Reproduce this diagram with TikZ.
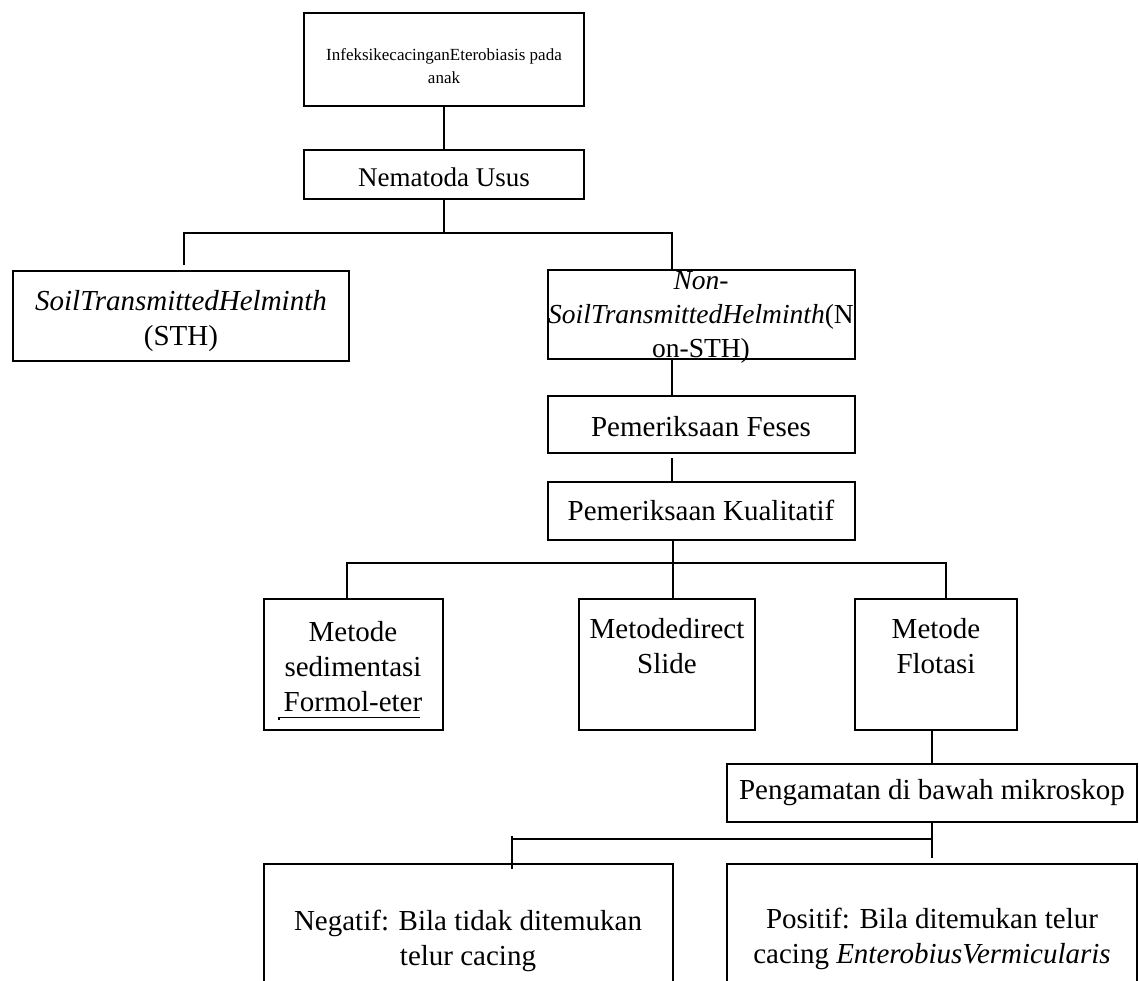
\documentclass[tikz,border=0pt]{standalone}
\usepackage{fontspec}
\setmainfont{Liberation Serif}
\begin{document}
\begin{tikzpicture}[x=1pt,y=-1pt,
  box/.style={draw,line width=1.3pt,inner sep=0pt,outer sep=0pt},
  conn/.style={line width=1.3pt},
  txt/.style={inner sep=0pt,align=center},
  big/.style={font=\fontsize{29}{35}\selectfont},
  mid/.style={font=\fontsize{27}{33}\selectfont},
  nonf/.style={font=\fontsize{27.5}{34}\selectfont},
  small/.style={font=\fontsize{17}{23}\selectfont}]
\clip (0,0) rectangle (1139,980);
\fill[white] (0,0) rectangle (1139,980);
% boxes
\node[box,minimum width=280pt,minimum height=93pt] (top) at (444,59.5) {};
\node[box,minimum width=280pt,minimum height=49pt] (nem) at (444,174.5) {};
\node[box,minimum width=336pt,minimum height=90pt] (sth) at (181,316) {};
\node[box,minimum width=307pt,minimum height=89pt] (non) at (701.5,314.5) {};
\node[box,minimum width=307pt,minimum height=57pt] (feses) at (701.5,424.5) {};
\node[box,minimum width=307pt,minimum height=58pt] (kual) at (701.5,511) {};
\node[box,minimum width=179pt,minimum height=131pt] (sed) at (353.5,664.5) {};
\node[box,minimum width=176pt,minimum height=131pt] (dir) at (667,664.5) {};
\node[box,minimum width=162pt,minimum height=131pt] (flo) at (936,664.5) {};
\node[box,minimum width=410pt,minimum height=58pt] (peng) at (932,793) {};
\node[box,minimum width=409pt,minimum height=160pt] (neg) at (468.5,944) {};
\node[box,minimum width=410pt,minimum height=160pt] (pos) at (932,944) {};
% texts
\node[txt,small] (topt) at (444,66) {InfeksikecacinganEterobiasis pada\\anak};
\node[txt,mid] (nemt) at (444,177) {Nematoda Usus};
\node[txt,big] (stht) at (181,321) {\textit{SoilTransmittedHelminth}\\(STH)};
\node[txt,nonf] (nont) at (701,317) {\textit{Non-}\\\textit{SoilTransmittedHelminth}(N\\on-STH)};
\node[txt,big] (fesest) at (701,427) {Pemeriksaan Feses};
\node[txt,big] (kualt) at (701,510) {Pemeriksaan Kualitatif};
\node[txt,big] (sedt) at (353,667) {Metode\\sedimentasi\\Formol-eter};
\node[txt,big] (dirt) at (667,646) {Metodedirect\\Slide};
\node[txt,big] (flot) at (936,646) {Metode\\Flotasi};
\node[txt,big] (pengt) at (932,793) {Pengamatan di bawah mikroskop};
\node[txt,big] (negt) at (468,941) {Negatif: Bila tidak ditemukan\\telur cacing};
\node[txt,big] (post) at (932,939) {Positif: Bila ditemukan telur\\cacing \textit{EnterobiusVermicularis}};
% underline under Formol-eter
\draw[line width=1.1pt] (279,720) -- (279,717.5) -- (420,717.5);
% junction coordinates
\coordinate (j1) at (444,233);
\coordinate (j2) at (673,563);
\coordinate (j3) at (932,839);
% connectors
\draw[conn] (top.south) -- (nem.north);
\draw[conn] (nem.south) -- (j1);
\draw[conn] (184,265) -- (184,233) -- (672,233) -- (non.north -| 672,0);
\draw[conn] (non.south -| 672,0) -- (feses.north -| 672,0);
\draw[conn] (672,458) -- (kual.north -| 672,0);
\draw[conn] (kual.south -| j2) -- (j2);
\draw[conn] (sed.north -| 347,0) -- (347,563) -- (946,563) -- (flo.north -| 946,0);
\draw[conn] (j2) -- (dir.north -| j2);
\draw[line width=1.3pt] (672,562.3) -- (738,562.3);
\draw[conn] (flo.south -| j3) -- (peng.north -| j3);
\draw[conn] (peng.south -| j3) -- (932,858);
\draw[conn] (j3) -- (512,839);
\draw[conn] (512,836) -- (512,869);
\end{tikzpicture}
\end{document}
